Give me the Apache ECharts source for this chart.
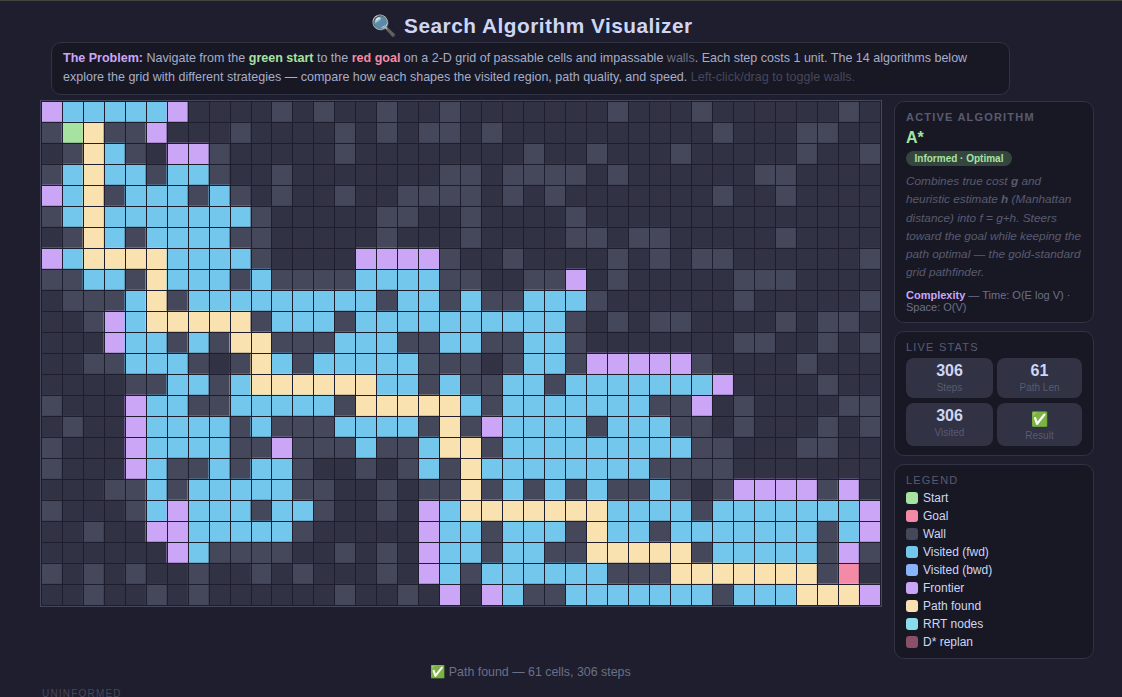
<!DOCTYPE html>
<html><head><meta charset="utf-8"><title>Search Algorithm Visualizer</title>
<script src="https://cdn.jsdelivr.net/npm/echarts@6/dist/echarts.min.js"></script>
<style>
*{box-sizing:border-box}
html,body{margin:0;padding:0;width:1122px;height:697px;overflow:hidden;background:#1e1e2e;font-family:"Liberation Sans",Arial,sans-serif;color:#cdd6f4}
#topline{position:absolute;left:0;top:0;width:1122px;height:1px;background:#45453f}
h1{position:absolute;left:0;top:13px;width:1064px;margin:0;text-align:center;font-size:20.8px;line-height:26px;font-weight:700;color:#cdd6f4;letter-spacing:.5px}
.panel{position:absolute;background:#181825;border:1px solid #313244;border-radius:10px}
#problem{left:51px;top:42px;width:959px;height:53px;padding:6px 11px;font-size:12.52px;line-height:19px;color:#a6adc8;white-space:nowrap}
#problem b.t{color:#cba6f7}#problem b.g{color:#a6e3a1}#problem b.r{color:#f38ba8}
#problem .w{color:#6c7086}#problem .h{color:#45475a}
#gridbox{position:absolute;left:40px;top:100px;width:842px;height:507px;border:1px solid #45475a;background:#1e1e2e}
#chart{width:840px;height:505px}
.hd{position:absolute;left:11px;font-size:11px;line-height:13px;letter-spacing:1.2px;color:#585b70;white-space:nowrap}
#p1{left:894px;top:101px;width:200px;height:222px}
#p2{left:894px;top:331px;width:200px;height:125px}
#p3{left:894px;top:464px;width:200px;height:195px}
#name{position:absolute;left:11px;top:27px;font-size:16px;line-height:18px;font-weight:700;color:#a6e3a1}
#badge{position:absolute;left:11px;top:49px;height:15px;width:106px;border-radius:8px;background:#35463f;color:#a6e3a1;font-size:10px;line-height:15px;font-weight:700;text-align:center;white-space:nowrap}
#desc{position:absolute;left:11px;top:70px;width:180px;font-size:11.8px;line-height:18.3px;font-style:italic;color:#585b70}
#cx{position:absolute;left:11px;top:187px;width:180px;font-size:11px;line-height:12px;color:#6c7086}
#cx b{color:#cba6f7}
.stat{position:absolute;background:#313244;border-radius:8px;text-align:center}
.stat .v{position:absolute;left:0;right:0;top:3px;font-size:16px;line-height:20px;font-weight:700;color:#cdd6f4}
.stat .l{position:absolute;left:0;right:0;font-size:10px;line-height:12px;color:#585b70}
.li{position:absolute;left:11px;height:18px;font-size:12px;line-height:18px;color:#cdd6f4;white-space:nowrap}
.li i{display:inline-block;position:absolute;left:0;top:3px;width:12px;height:12px;border-radius:3px}
.li span{position:absolute;left:17px;top:0}
#status{position:absolute;left:0;top:665px;width:1061px;text-align:center;font-size:12.4px;line-height:14px;color:#6c7086}
#un{position:absolute;left:42px;top:688px;font-size:10px;line-height:12px;letter-spacing:1.2px;color:#45475a}
</style></head><body>
<div id="topline"></div>
<h1>🔍 Search Algorithm Visualizer</h1>
<div id="problem" class="panel"><b class="t">The Problem:</b> Navigate from the <b class="g">green start</b> to the <b class="r">red goal</b> on a 2-D grid of passable cells and impassable <span class="w">walls</span>. Each step costs 1 unit. The 14 algorithms below<br>explore the grid with different strategies — compare how each shapes the visited region, path quality, and speed. <span class="h">Left-click/drag to toggle walls.</span></div>
<div id="gridbox"><div id="chart"></div></div>
<div id="p1" class="panel">
 <div class="hd" style="top:9px;font-weight:700">ACTIVE ALGORITHM</div>
 <div id="name">A*</div>
 <div id="badge">Informed · Optimal</div>
 <div id="desc">Combines true cost <b>g</b> and heuristic estimate <b>h</b> (Manhattan distance) into f = g+h. Steers toward the goal while keeping the path optimal — the gold-standard grid pathfinder.</div>
 <div id="cx"><b>Complexity</b> — Time: O(E log V) · Space: O(V)</div>
</div>
<div id="p2" class="panel">
 <div class="hd" style="top:9px">LIVE STATS</div>
 <div class="stat" style="left:11px;top:26px;width:87px;height:40px"><div class="v">306</div><div class="l" style="top:24px">Steps</div></div>
 <div class="stat" style="left:102px;top:26px;width:85px;height:40px"><div class="v">61</div><div class="l" style="top:24px">Path Len</div></div>
 <div class="stat" style="left:11px;top:71px;width:87px;height:43px"><div class="v">306</div><div class="l" style="top:24px">Visited</div></div>
 <div class="stat" style="left:102px;top:71px;width:85px;height:43px"><div class="v" style="top:6px;font-size:14px">✅</div><div class="l" style="top:27px">Result</div></div>
</div>
<div id="p3" class="panel">
 <div class="hd" style="top:9px">LEGEND</div>
 <div id="legend"></div>
</div>
<div id="status">✅ Path found — 61 cells, 306 steps</div>
<div id="un">UNINFORMED</div>
<script>
// Grid state, one string per row: . empty, # wall, v visited, f frontier, p path, S start, G goal
const gridRows = [
 "fvvvvvf....#.#..#..#.......#...#......#.",
 "#Sp##f...#....#.#.##.#..........#...##..",
 ".#pv#.ff#.....#........#..#...#.....#..#",
 "#vpvv#vv#..#.......##.####.#......##....",
 "fvp#vvv#v#.#..#..####.#.#.......#..#....",
 "#vpvvvvvvv#.....##..#....#..............",
 ".#pv#vvvv##.....#...#....##.##.....#....",
 "fvppppvvvv#....ffff#..#....#.#.##......#",
 "##vv#pvvv#v####vvvv##..##f.#.....###....",
 ".###vp#vvvvvvvvv#vv#v##vvv#......#.....#",
 "..#fvppppp#vvv#vvvvvvvvvv#.#.##....#.##.",
 "...fvv#v#pp###vvv##vv##vv#.......##..#.#",
 "..##vvv#.#pv#vvvvv###.#vv#fffff#....#...",
 "....##vv#vppppppvv#v##vv#vvvvvvvf....#..",
 "#...fvv##vvvvv#pppppv#vvvvvvv##f.#....##",
 ".#..fvvvv#v###vvvv#p#fvvvv#vvv##.#...#.#",
 "#...fvvvv##f###v##vpp#vvvvvvvvv##...##..",
 "#...fv##v#vv#..#.#v#pvvvvvvvv####.......",
 "...##v#vvvvv##..#.##p#v#v#v##v#.#ffff#f.",
 "#...#vfvvv#vv#..#.fvpppppppvvvv#vvvvvvvf",
 "..#..ffvvvvv#.....fvv#vvv#pvv#vvvvvvv#vf",
 "......fv####..#.#.fvv#vv##ppppp#vvvvv#f#",
 "#.#.#..#..#.#...#.fv#vvvvvv###ppppppp#G.",
 "..#..#.#......#..#.f.fv##vvvvvvv#vvvpppf"
];
const stateCodes = [".", "#", "v", "f", "p", "S", "G"];
const stateColors = ["#313244", "#45475a", "#74c7ec", "#cba6f7", "#f9e2af", "#a6e3a1", "#f38ba8"];
const legendNames = ["Start", "Goal", "Wall", "Visited (fwd)", "Visited (bwd)", "Frontier", "Path found", "RRT nodes", "D* replan"];
const legendColors = ["#a6e3a1", "#f38ba8", "#45475a", "#74c7ec", "#89b4fa", "#cba6f7", "#f9e2af", "#89dceb", "#8a5068"];

const legendEl = document.getElementById("legend");
legendNames.forEach((n, i) => {
  const d = document.createElement("div");
  d.className = "li"; d.style.top = (24 + 18 * i) + "px";
  d.innerHTML = '<i style="background:' + legendColors[i] + '"></i><span>' + n + '</span>';
  legendEl.appendChild(d);
});

const columns = Array.from({length: 40}, (_, i) => i);
const rowsIdx = gridRows.map((_, i) => i);
const cells = [];
gridRows.forEach((row, y) => {
  for (let x = 0; x < 40; x++) cells.push([x, y, Math.max(0, stateCodes.indexOf(row[x] || "."))]);
});
const gapLine = {show: true, interval: 0, lineStyle: {color: "#1e1e2e", width: 1}};
const chart = echarts.init(document.getElementById("chart"), null, {renderer: "canvas"});
chart.setOption({
  animation: false,
  backgroundColor: "#1e1e2e",
  grid: {left: -1, right: 1, top: -1, bottom: 1},
  xAxis: {type: "category", data: columns, z: 10, axisLabel: {show: false}, axisTick: {show: false}, axisLine: {show: false}, splitLine: gapLine, splitArea: {show: false}},
  yAxis: {type: "category", data: rowsIdx, inverse: true, z: 10, axisLabel: {show: false}, axisTick: {show: false}, axisLine: {show: false}, splitLine: gapLine, splitArea: {show: false}},
  visualMap: {show: false, type: "piecewise", dimension: 2, seriesIndex: 0,
    pieces: stateColors.map((c, i) => ({value: i, color: c}))},
  series: [{type: "heatmap", data: cells, silent: true, progressive: 0, itemStyle: {borderWidth: 0}, emphasis: {disabled: true}}]
});
</script>
</body></html>
